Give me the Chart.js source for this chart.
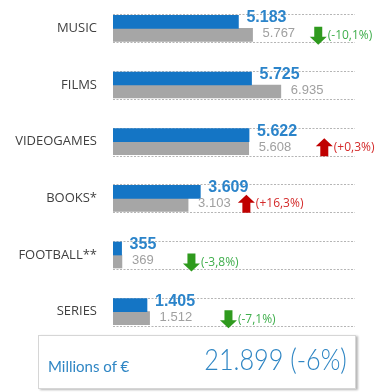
<!DOCTYPE html>
<html>

<head>
    <meta charset="UTF-8">
    <title>Sales by sector</title>
    <script src="https://cdn.jsdelivr.net/npm/chart.js"></script>
    <style>
        body {
            margin: 0;
            background: #fff;
            width: 382px;
            height: 392px;
            position: relative;
            overflow: hidden;
        }

        #wrap {
            position: absolute;
            left: 0;
            top: 0;
            width: 382px;
            height: 340px;
        }

        .total {
            position: absolute;
            left: 38px;
            top: 335px;
            width: 318px;
            height: 54px;
            border: 1px solid #d6d6d6;
            box-shadow: 2px 1px 2px #b8b8b8;
            box-sizing: border-box;
            color: #2f86c4;
            font-family: Lato, sans-serif;
        }

        .total .unit {
            position: absolute;
            left: 9px;
            top: 21px;
            font-size: 15px;
        }

        .total .sum {
            position: absolute;
            right: 8px;
            top: 5px;
            font-size: 29px;
            font-weight: 300;
            transform: scaleX(0.87);
            transform-origin: right center;
        }
    </style>
</head>

<body>
    <div id="wrap"><canvas id="myChart"></canvas></div>
    <div class="total"><span class="unit">Millions of €</span><span class="sum">21.899 (-6%)</span></div>

    <script>
        const categories = ['MUSIC', 'FILMS', 'VIDEOGAMES', 'BOOKS*', 'FOOTBALL**', 'SERIES'];
        const current = [5183, 5725, 5622, 3609, 355, 1405];
        const previous = [5767, 6935, 5608, 3103, 369, 1512];
        const changes = ['(-10,1%)', null, '(+0,3%)', '(+16,3%)', '(-3,8%)', '(-7,1%)'];

        // where each change arrow sits, in axis units
        const arrowAt = [8130, null, 8380, 5160, 2890, 4420];

        function fmt(v) {
            return v.toString().replace(/\B(?=(\d{3})+(?!\d))/g, '.');
        }

        function drawArrow(ctx, x, y, up, color) {
            // block arrow 17px wide, 18px tall, x = left edge, y = centre
            const w = 17, h = 18, stem = 8, head = 8;
            ctx.save();
            ctx.fillStyle = color;
            ctx.beginPath();
            if (up) {
                ctx.moveTo(x + w / 2, y - h / 2);
                ctx.lineTo(x + w, y - h / 2 + head);
                ctx.lineTo(x + w / 2 + stem / 2, y - h / 2 + head);
                ctx.lineTo(x + w / 2 + stem / 2, y + h / 2);
                ctx.lineTo(x + w / 2 - stem / 2, y + h / 2);
                ctx.lineTo(x + w / 2 - stem / 2, y - h / 2 + head);
                ctx.lineTo(x, y - h / 2 + head);
            } else {
                ctx.moveTo(x + w / 2 - stem / 2, y - h / 2);
                ctx.lineTo(x + w / 2 + stem / 2, y - h / 2);
                ctx.lineTo(x + w / 2 + stem / 2, y + h / 2 - head);
                ctx.lineTo(x + w, y + h / 2 - head);
                ctx.lineTo(x + w / 2, y + h / 2);
                ctx.lineTo(x, y + h / 2 - head);
                ctx.lineTo(x + w / 2 - stem / 2, y + h / 2 - head);
            }
            ctx.closePath();
            ctx.fill();
            ctx.restore();
        }

        // dashed rules, value labels and change arrows
        const decorations = {
            id: 'decorations',
            beforeDatasetsDraw(chart) {
                const ctx = chart.ctx;
                const area = chart.chartArea;
                const cur = chart.getDatasetMeta(0).data;
                const prev = chart.getDatasetMeta(1).data;
                ctx.save();
                ctx.strokeStyle = '#b5b5b5';
                ctx.lineWidth = 1;
                ctx.setLineDash([2, 1.5]);
                cur.forEach((bar, i) => {
                    const top = Math.round(bar.y - bar.height / 2) - 0.5;
                    const bottom = Math.round(prev[i].y + prev[i].height / 2) + 1.5;
                    ctx.beginPath();
                    ctx.moveTo(area.left, top);
                    ctx.lineTo(area.right, top);
                    ctx.moveTo(area.left, bottom);
                    ctx.lineTo(area.right, bottom);
                    ctx.stroke();
                });
                ctx.restore();
            },
            afterDatasetsDraw(chart) {
                const ctx = chart.ctx;
                const xs = chart.scales.x;
                const cur = chart.getDatasetMeta(0).data;
                const prev = chart.getDatasetMeta(1).data;
                ctx.save();
                ctx.textBaseline = 'middle';
                ctx.textAlign = 'left';
                cur.forEach((bar, i) => {
                    ctx.font = 'bold 16px "Liberation Sans", Arial, sans-serif';
                    ctx.fillStyle = '#2b84ca';
                    ctx.fillText(fmt(current[i]), bar.x + 8, bar.y - 4);
                    ctx.font = '13px "Liberation Sans", Arial, sans-serif';
                    ctx.fillStyle = '#a0a0a0';
                    ctx.fillText(fmt(previous[i]), prev[i].x + 10, prev[i].y - 1);

                    if (changes[i]) {
                        const up = changes[i].indexOf('+') >= 0;
                        const ax = xs.getPixelForValue(arrowAt[i]);
                        const ay = prev[i].y + (up ? -1 : 1);
                        drawArrow(ctx, ax, ay, up, up ? '#c00000' : '#2f9a1e');
                        ctx.font = '12px "Open Sans", sans-serif';
                        ctx.fillStyle = up ? '#d42a2a' : '#3fae4c';
                        ctx.fillText(changes[i], ax + 18, ay);
                    }
                });
                ctx.restore();
            }
        };

        const ctx = document.getElementById('myChart');
        const myChart = new Chart(ctx, {
            type: 'bar',
            data: {
                labels: categories,
                datasets: [{
                    label: '2015',
                    data: current,
                    backgroundColor: '#1475c5',
                    barThickness: 13
                }, {
                    label: '2014',
                    data: previous,
                    backgroundColor: '#a6a6a6',
                    barThickness: 13
                }]
            },
            options: {
                indexAxis: 'y',
                responsive: true,
                maintainAspectRatio: false,
                animation: false,
                layout: {
                    padding: { left: 0, right: 27, top: 0, bottom: 0 }
                },
                plugins: {
                    legend: { display: false },
                    tooltip: { enabled: false }
                },
                scales: {
                    x: {
                        display: false,
                        min: 0,
                        max: 10000
                    },
                    y: {
                        // fixed label column, and no extra room above/below the rows
                        afterFit: function (scale) {
                            scale.width = 113;
                            scale.paddingTop = 0;
                            scale.paddingBottom = 0;
                        },
                        grid: { display: false, drawTicks: false },
                        border: { display: false },
                        ticks: {
                            color: '#404040',
                            padding: 16,
                            font: { family: 'Open Sans', size: 13 }
                        }
                    }
                }
            },
            plugins: [decorations]
        });
    </script>

</body>

</html>
